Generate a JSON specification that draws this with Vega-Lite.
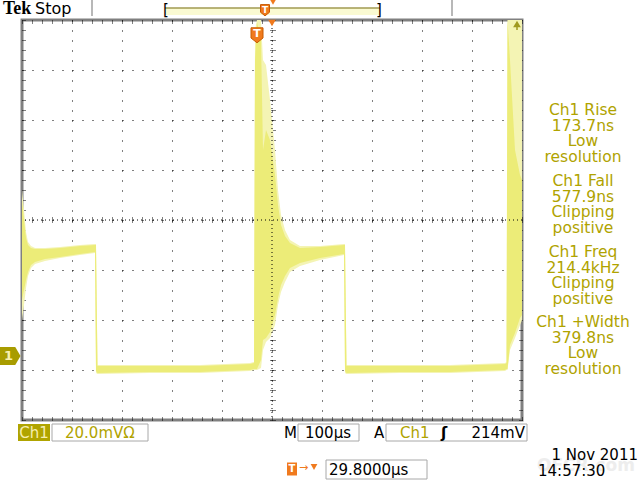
{
"$schema":"https://vega.github.io/schema/vega-lite/v6.json",
"width":500,"height":400,
"autosize":{"type":"none"},
"padding":{"left":22,"top":20,"right":118,"bottom":60},
"background":"#ffffff",
"config":{"view":{"stroke":"#808080","strokeWidth":3},"axis":{"labels":false,"domain":false,"ticks":false,"grid":false,"zindex":1}},
"datasets":{"wave":[
{"t":0,"ohi":0.6,"olo":-2.0,"chi":0.4,"clo":-1.6},
{"t":0.04,"ohi":0.2,"olo":-1.7,"chi":0,"clo":-1.4},
{"t":0.08,"ohi":-0.24,"olo":-1.36,"chi":-0.36,"clo":-1.2},
{"t":0.12,"ohi":-0.44,"olo":-1.12,"chi":-0.5,"clo":-1.04},
{"t":0.18,"ohi":-0.52,"olo":-0.96,"chi":-0.56,"clo":-0.9},
{"t":0.26,"ohi":-0.56,"olo":-0.88,"chi":-0.58,"clo":-0.84},
{"t":0.46,"ohi":-0.56,"olo":-0.82,"chi":-0.58,"clo":-0.78},
{"t":0.76,"ohi":-0.54,"olo":-0.76,"chi":-0.56,"clo":-0.74},
{"t":1.16,"ohi":-0.5,"olo":-0.7,"chi":-0.52,"clo":-0.68},
{"t":1.46,"ohi":-0.48,"olo":-0.66,"chi":-0.5,"clo":-0.64},
{"t":1.48,"ohi":-0.48,"olo":-3.06,"chi":-0.5,"clo":-3.02},
{"t":1.51,"ohi":-2.9,"olo":-3.08,"chi":-2.92,"clo":-3.06},
{"t":2.56,"ohi":-2.9,"olo":-3.06,"chi":-2.92,"clo":-3.04},
{"t":3.56,"ohi":-2.9,"olo":-3.06,"chi":-2.92,"clo":-3.04},
{"t":4.56,"ohi":-2.86,"olo":-3.02,"chi":-2.88,"clo":-3.0},
{"t":4.64,"ohi":-2.84,"olo":-3.0,"chi":-2.86,"clo":-2.98},
{"t":4.66,"ohi":3.8,"olo":-3.0,"chi":3.2,"clo":-2.98},
{"t":4.7,"ohi":4.0,"olo":-3.0,"chi":3.96,"clo":-2.98},
{"t":4.78,"ohi":4.0,"olo":-2.96,"chi":3.6,"clo":-2.8},
{"t":4.82,"ohi":3.2,"olo":-2.6,"chi":1.4,"clo":-2.4},
{"t":4.88,"ohi":3.1,"olo":-2.44,"chi":1.8,"clo":-2.36},
{"t":4.96,"ohi":2.4,"olo":-2.36,"chi":1.6,"clo":-2.24},
{"t":5.06,"ohi":1.4,"olo":-2.1,"chi":0.9,"clo":-1.9},
{"t":5.12,"ohi":0.6,"olo":-1.7,"chi":0.3,"clo":-1.56},
{"t":5.18,"ohi":0.1,"olo":-1.44,"chi":-0.1,"clo":-1.3},
{"t":5.26,"ohi":-0.2,"olo":-1.24,"chi":-0.32,"clo":-1.12},
{"t":5.36,"ohi":-0.4,"olo":-1.04,"chi":-0.46,"clo":-0.96},
{"t":5.56,"ohi":-0.52,"olo":-0.92,"chi":-0.56,"clo":-0.86},
{"t":5.96,"ohi":-0.52,"olo":-0.8,"chi":-0.54,"clo":-0.76},
{"t":6.44,"ohi":-0.48,"olo":-0.7,"chi":-0.5,"clo":-0.68},
{"t":6.46,"ohi":-0.48,"olo":-3.06,"chi":-0.5,"clo":-3.02},
{"t":6.49,"ohi":-2.9,"olo":-3.08,"chi":-2.92,"clo":-3.06},
{"t":7.56,"ohi":-2.9,"olo":-3.06,"chi":-2.92,"clo":-3.04},
{"t":8.56,"ohi":-2.9,"olo":-3.06,"chi":-2.92,"clo":-3.04},
{"t":9.66,"ohi":-2.86,"olo":-3.02,"chi":-2.88,"clo":-3.0},
{"t":9.69,"ohi":-2.84,"olo":-3.0,"chi":-2.86,"clo":-2.98},
{"t":9.71,"ohi":4.0,"olo":-3.0,"chi":4.0,"clo":-2.98},
{"t":9.76,"ohi":4.0,"olo":-2.6,"chi":3.2,"clo":-2.5},
{"t":9.86,"ohi":4.0,"olo":-2.36,"chi":1.4,"clo":-2.26},
{"t":9.96,"ohi":4.0,"olo":-2.1,"chi":0.9,"clo":-1.96},
{"t":10,"ohi":4.0,"olo":-2.0,"chi":0.8,"clo":-1.9}
]},
"resolve":{"axis":{"x":"independent","y":"independent"}},
"layer":[
{"data":{"values":[{}]},"mark":{"type":"rect","fill":"#fafad2"},"encoding":{"x":{"datum":2.86,"axis":null,"scale":{"domain":[0,10],"nice":false,"zero":false}},"x2":{"datum":7.16},"y":{"datum":4.1,"axis":null,"scale":{"domain":[-4,4],"nice":false,"zero":false}},"y2":{"datum":4.24}}},
{"data":{"values":[{}]},"mark":{"type":"rule","color":"#a09a50","strokeWidth":1.5},"encoding":{"x":{"datum":2.86,"axis":null},"x2":{"datum":7.16},"y":{"datum":4.24,"axis":null}}},
{"data":{"values":[{}]},"mark":{"type":"rule","color":"#b8b8b8","strokeWidth":2},"encoding":{"x":{"datum":1.4,"axis":null},"y":{"datum":4.4,"axis":null},"y2":{"datum":4.08}}},
{"data":{"values":[{}]},"mark":{"type":"rule","color":"#b8b8b8","strokeWidth":2},"encoding":{"x":{"datum":8.6,"axis":null},"y":{"datum":4.4,"axis":null},"y2":{"datum":4.08}}},
{"data":{"name":"wave"},"mark":{"type":"area","color":"#f4f4b4","clip":true},"encoding":{
 "x":{"field":"t","type":"quantitative","scale":{"domain":[0,10],"nice":false,"zero":false},"axis":{"orient":"bottom","title":null,"values":[1,2,3,4,5,6,7,8,9],"grid":true,"gridDash":[1,9],"gridColor":"#000000","gridOpacity":1,"gridWidth":1}},
 "y":{"field":"olo","type":"quantitative","scale":{"domain":[-4,4],"nice":false,"zero":false},"axis":{"orient":"left","title":null,"values":[-3,-2,-1,0,1,2,3],"grid":true,"gridDash":[1,9],"gridColor":"#000000","gridOpacity":1,"gridWidth":1}},
 "y2":{"field":"ohi"}}},
{"data":{"name":"wave"},"mark":{"type":"area","color":"#ecec78","clip":true},"encoding":{
 "x":{"field":"t","type":"quantitative","scale":{"domain":[0,10],"nice":false,"zero":false},"axis":{"orient":"bottom","title":null,"offset":-203,"tickCount":50,"ticks":true,"tickSize":6,"tickColor":"#000000","tickWidth":1,"tickDash":[1,1]}},
 "y":{"field":"clo","type":"quantitative","scale":{"domain":[-4,4],"nice":false,"zero":false},"axis":{"orient":"left","title":null,"offset":-253,"tickCount":40,"ticks":true,"tickSize":6,"tickColor":"#000000","tickWidth":1,"tickDash":[1,1]}},
 "y2":{"field":"chi"}}},
{"data":{"values":[{}]},"mark":{"type":"rule","color":"#000000","strokeDash":[1,3]},"encoding":{"x":{"datum":5,"axis":{"orient":"top","title":null,"tickCount":50,"ticks":true,"tickSize":-4,"tickColor":"#000000","tickDash":[1,1]}}}},
{"data":{"values":[{}]},"mark":{"type":"rule","color":"#000000","strokeDash":[1,3]},"encoding":{"y":{"datum":0,"axis":{"orient":"right","title":null,"tickCount":40,"ticks":true,"tickSize":-4,"tickColor":"#000000","tickDash":[1,1]}}}},
{"data":{"values":[{}]},"mark":{"type":"point","opacity":0},"encoding":{"x":{"datum":5,"axis":{"orient":"bottom","title":null,"tickCount":50,"ticks":true,"tickSize":-4,"tickColor":"#000000","tickDash":[1,1]}},"y":{"datum":0,"axis":{"orient":"left","title":null,"tickCount":40,"ticks":true,"tickSize":-4,"tickColor":"#000000","tickDash":[1,1]}}}},
{"data":{"values":[{}]},"mark":{"type":"point","shape":"M-1,-1.2L1,-1.2L1,0.5L0,1.3L-1,0.5Z","filled":true,"size":144,"color":"#f07a1e","opacity":1,"stroke":"#c85a00","strokeWidth":1},"encoding":{"x":{"datum":4.7,"axis":null},"y":{"datum":3.7,"axis":null}}},
{"data":{"values":[{}]},"mark":{"type":"text","text":"T","font":"DejaVu Sans","fontWeight":"bold","fontSize":11,"color":"#ffffff","align":"center","baseline":"middle"},"encoding":{"x":{"datum":4.7,"axis":null},"y":{"datum":3.72,"axis":null}}},
{"data":{"values":[{}]},"mark":{"type":"point","shape":"triangle-down","filled":true,"size":60,"color":"#f07a1e","opacity":1},"encoding":{"x":{"datum":5.0,"axis":null},"y":{"datum":3.94,"axis":null}}},
{"data":{"values":[{}]},"mark":{"type":"point","shape":"M-1,-1.2L1,-1.2L1,0.5L0,1.3L-1,0.5Z","filled":true,"size":81,"color":"#f07a1e","opacity":1,"stroke":"#c85a00","strokeWidth":1},"encoding":{"x":{"datum":4.86,"axis":null},"y":{"datum":4.2,"axis":null}}},
{"data":{"values":[{}]},"mark":{"type":"text","text":"T","font":"DejaVu Sans","fontWeight":"bold","fontSize":9,"color":"#ffffff","align":"center","baseline":"middle"},"encoding":{"x":{"datum":4.86,"axis":null},"y":{"datum":4.21,"axis":null}}},
{"data":{"values":[{}]},"mark":{"type":"point","shape":"triangle-down","filled":true,"size":40,"color":"#f07a1e","opacity":1},"encoding":{"x":{"datum":5.02,"axis":null},"y":{"datum":4.36,"axis":null}}},
{"data":{"values":[{}]},"mark":{"type":"text","text":"[","font":"DejaVu Sans","fontSize":15,"color":"#000000","align":"center","baseline":"middle"},"encoding":{"x":{"datum":2.88,"axis":null},"y":{"datum":4.2,"axis":null}}},
{"data":{"values":[{}]},"mark":{"type":"text","text":"]","font":"DejaVu Sans","fontSize":15,"color":"#000000","align":"center","baseline":"middle"},"encoding":{"x":{"datum":7.14,"axis":null},"y":{"datum":4.2,"axis":null}}},
{"data":{"values":[{}]},"mark":{"type":"point","shape":"triangle-up","filled":true,"size":60,"color":"#a09a20","opacity":1},"encoding":{"x":{"datum":9.9,"axis":null},"y":{"datum":3.92,"axis":null}}},
{"data":{"values":[{}]},"mark":{"type":"rule","color":"#a09a20","strokeWidth":1.5},"encoding":{"x":{"datum":9.9,"axis":null},"y":{"datum":3.92,"axis":null},"y2":{"datum":3.8}}},
{"data":{"values":[{}]},"mark":{"type":"point","shape":"M-1,-0.86L0.5,-0.86L1,0L0.5,0.86L-1,0.86Z","filled":true,"size":441,"color":"#a89c00","opacity":1},"encoding":{"x":{"datum":-0.24,"axis":null},"y":{"datum":-2.72,"axis":null}}},
{"data":{"values":[{}]},"mark":{"type":"text","text":"1","font":"DejaVu Sans","fontWeight":"bold","fontSize":13,"color":"#f8f0b0","align":"center","baseline":"middle"},"encoding":{"x":{"datum":-0.27,"axis":null},"y":{"datum":-2.72,"axis":null}}},
{"data":{"values":[{}]},"mark":{"type":"text","text":"Tek","font":"Liberation Serif","fontWeight":"bold","fontSize":18,"color":"#000000","align":"left","baseline":"alphabetic"},"encoding":{"x":{"datum":-0.38,"axis":null},"y":{"datum":4.12,"axis":null}}},
{"data":{"values":[{}]},"mark":{"type":"text","text":"Stop","font":"DejaVu Sans","fontSize":16,"color":"#000000","align":"left","baseline":"alphabetic"},"encoding":{"x":{"datum":0.26,"axis":null},"y":{"datum":4.12,"axis":null}}},
{"data":{"values":[{}]},"mark":{"type":"text","text":["Ch1 Rise","173.7ns","Low","resolution"],"lineHeight":15.67,"font":"DejaVu Sans","fontSize":15.5,"color":"#b0a300","align":"center","baseline":"middle"},"encoding":{"x":{"datum":11.22,"axis":null},"y":{"datum":2.2,"axis":null}}},
{"data":{"values":[{}]},"mark":{"type":"text","text":["Ch1 Fall","577.9ns","Clipping","positive"],"lineHeight":15.67,"font":"DejaVu Sans","fontSize":15.5,"color":"#b0a300","align":"center","baseline":"middle"},"encoding":{"x":{"datum":11.22,"axis":null},"y":{"datum":0.78,"axis":null}}},
{"data":{"values":[{}]},"mark":{"type":"text","text":["Ch1 Freq","214.4kHz","Clipping","positive"],"lineHeight":15.67,"font":"DejaVu Sans","fontSize":15.5,"color":"#b0a300","align":"center","baseline":"middle"},"encoding":{"x":{"datum":11.22,"axis":null},"y":{"datum":-0.64,"axis":null}}},
{"data":{"values":[{}]},"mark":{"type":"text","text":["Ch1 +Width","379.8ns","Low","resolution"],"lineHeight":15.67,"font":"DejaVu Sans","fontSize":15.5,"color":"#b0a300","align":"center","baseline":"middle"},"encoding":{"x":{"datum":11.22,"axis":null},"y":{"datum":-2.04,"axis":null}}},
{"data":{"values":[{}]},"mark":{"type":"rect","fill":"#b0a400"},"encoding":{"x":{"datum":-0.08,"axis":null},"x2":{"datum":0.56},"y":{"datum":-4.08,"axis":null},"y2":{"datum":-4.42}}},
{"data":{"values":[{}]},"mark":{"type":"rect","fill":"#ffffff","stroke":"#a8a8a8","strokeWidth":1},"encoding":{"x":{"datum":0.6,"axis":null},"x2":{"datum":2.52},"y":{"datum":-4.08,"axis":null},"y2":{"datum":-4.42}}},
{"data":{"values":[{}]},"mark":{"type":"rect","fill":"#ffffff","stroke":"#a8a8a8","strokeWidth":1},"encoding":{"x":{"datum":5.52,"axis":null},"x2":{"datum":6.74},"y":{"datum":-4.08,"axis":null},"y2":{"datum":-4.42}}},
{"data":{"values":[{}]},"mark":{"type":"rect","fill":"#ffffff","stroke":"#a8a8a8","strokeWidth":1},"encoding":{"x":{"datum":7.28,"axis":null},"x2":{"datum":10.1},"y":{"datum":-4.08,"axis":null},"y2":{"datum":-4.42}}},
{"data":{"values":[{}]},"mark":{"type":"rect","fill":"#ffffff","stroke":"#a8a8a8","strokeWidth":1},"encoding":{"x":{"datum":6.08,"axis":null},"x2":{"datum":8.1},"y":{"datum":-4.8,"axis":null},"y2":{"datum":-5.18}}},
{"data":{"values":[{}]},"mark":{"type":"text","text":"Ch1","font":"DejaVu Sans","fontSize":15,"color":"#f6eeb0","align":"center","baseline":"middle"},"encoding":{"x":{"datum":0.24,"axis":null},"y":{"datum":-4.25,"axis":null}}},
{"data":{"values":[{}]},"mark":{"type":"text","text":"20.0mVΩ","font":"DejaVu Sans","fontSize":15,"color":"#b0a300","align":"left","baseline":"middle"},"encoding":{"x":{"datum":0.86,"axis":null},"y":{"datum":-4.25,"axis":null}}},
{"data":{"values":[{}]},"mark":{"type":"text","text":"M","font":"DejaVu Sans","fontSize":15,"color":"#000000","align":"center","baseline":"middle"},"encoding":{"x":{"datum":5.37,"axis":null},"y":{"datum":-4.25,"axis":null}}},
{"data":{"values":[{}]},"mark":{"type":"text","text":"100µs","font":"DejaVu Sans","fontSize":15,"color":"#000000","align":"left","baseline":"middle"},"encoding":{"x":{"datum":5.66,"axis":null},"y":{"datum":-4.25,"axis":null}}},
{"data":{"values":[{}]},"mark":{"type":"text","text":"A","font":"DejaVu Sans","fontSize":15,"color":"#000000","align":"center","baseline":"middle"},"encoding":{"x":{"datum":7.14,"axis":null},"y":{"datum":-4.25,"axis":null}}},
{"data":{"values":[{}]},"mark":{"type":"text","text":"Ch1","font":"DejaVu Sans","fontSize":15,"color":"#b0a300","align":"left","baseline":"middle"},"encoding":{"x":{"datum":7.56,"axis":null},"y":{"datum":-4.25,"axis":null}}},
{"data":{"values":[{}]},"mark":{"type":"text","text":"ʃ","font":"DejaVu Sans","fontWeight":"bold","fontSize":15,"color":"#000000","align":"center","baseline":"middle"},"encoding":{"x":{"datum":8.44,"axis":null},"y":{"datum":-4.25,"axis":null}}},
{"data":{"values":[{}]},"mark":{"type":"text","text":"214mV","font":"DejaVu Sans","fontSize":15,"color":"#000000","align":"right","baseline":"middle"},"encoding":{"x":{"datum":10.06,"axis":null},"y":{"datum":-4.25,"axis":null}}},
{"data":{"values":[{}]},"mark":{"type":"point","shape":"M-1,-1.3L1,-1.3L1,1.3L-1,1.3Z","filled":true,"size":100,"color":"#f07a1e","opacity":1},"encoding":{"x":{"datum":5.4,"axis":null},"y":{"datum":-4.98,"axis":null}}},
{"data":{"values":[{}]},"mark":{"type":"text","text":"T","font":"DejaVu Sans","fontWeight":"bold","fontSize":10,"color":"#ffffff","align":"center","baseline":"middle"},"encoding":{"x":{"datum":5.4,"axis":null},"y":{"datum":-4.98,"axis":null}}},
{"data":{"values":[{}]},"mark":{"type":"text","text":"→","font":"DejaVu Sans","fontSize":11,"color":"#f07a1e","align":"center","baseline":"middle"},"encoding":{"x":{"datum":5.63,"axis":null},"y":{"datum":-4.96,"axis":null}}},
{"data":{"values":[{}]},"mark":{"type":"point","shape":"triangle-down","filled":true,"size":45,"color":"#f07a1e","opacity":1},"encoding":{"x":{"datum":5.84,"axis":null},"y":{"datum":-4.94,"axis":null}}},
{"data":{"values":[{}]},"mark":{"type":"text","text":"29.8000µs","font":"DejaVu Sans","fontSize":15,"color":"#000000","align":"left","baseline":"middle"},"encoding":{"x":{"datum":6.14,"axis":null},"y":{"datum":-4.99,"axis":null}}},
{"data":{"values":[{}]},"mark":{"type":"text","text":"OFCR.com","font":"DejaVu Sans","fontWeight":"bold","fontSize":17,"color":"#ededed","align":"left","baseline":"middle"},"encoding":{"x":{"datum":10.3,"axis":null},"y":{"datum":-4.92,"axis":null}}},
{"data":{"values":[{}]},"mark":{"type":"text","text":"1 Nov 2011","font":"DejaVu Sans","fontSize":15,"color":"#000000","align":"right","baseline":"middle"},"encoding":{"x":{"datum":12.32,"axis":null},"y":{"datum":-4.7,"axis":null}}},
{"data":{"values":[{}]},"mark":{"type":"text","text":"14:57:30","font":"DejaVu Sans","fontSize":15,"color":"#000000","align":"left","baseline":"middle"},"encoding":{"x":{"datum":10.32,"axis":null},"y":{"datum":-5.02,"axis":null}}}
]
}
